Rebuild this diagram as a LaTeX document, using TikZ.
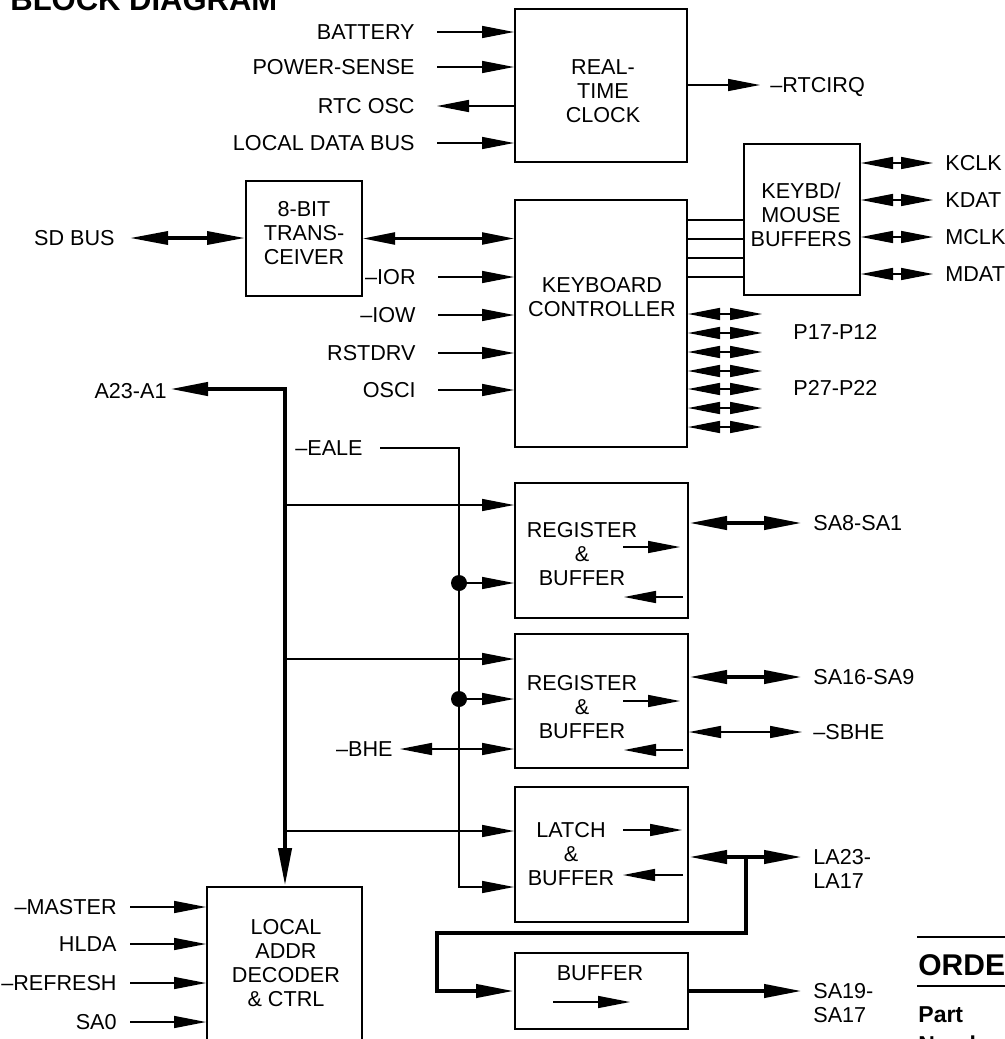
\documentclass[tikz,border=0pt]{standalone}
\usepackage{fontspec}
\setmainfont{Liberation Sans}
\usepackage{tikz}
\usetikzlibrary{arrows.meta, positioning, calc}

\begin{document}
\begin{tikzpicture}[x=0.5pt, y=-0.5pt,
    font=\fontsize{10.8}{12}\selectfont,
    >={Triangle[length=16pt,width=6pt]},
    blk/.style={draw, line width=1pt, inner sep=0pt},
    blktxt/.style={align=center, inner sep=0pt},
    sig/.style={line width=0.75pt},
    bus/.style={line width=2.1pt, >={Triangle[length=19pt,width=6.5pt]}},
    inlbl/.style={anchor=east, inner ysep=0pt, inner xsep=11pt, text height=7.7pt, text depth=0pt},
    outlbl/.style={anchor=west, inner ysep=0pt, inner xsep=5.5pt, text height=7.7pt, text depth=0pt},
    outlbltwo/.style={anchor=west, align=left, inner ysep=0pt, inner xsep=5.5pt}]

            \useasboundingbox (0,0) rectangle (1005,1039);
            \clip (0,0) rectangle (1005,1039);

            % Tiêu đề
            \node[anchor=base west, inner sep=0pt, font=\fontsize{15.5}{18}\selectfont\bfseries] (title) at (10,10) {BLOCK DIAGRAM};

            % Vẽ các khối
            \node[blk, minimum width=86pt, minimum height=76.5pt] (rtc) at (601,85.5) {};
            \node[blk, minimum width=58pt, minimum height=75.5pt] (keyb) at (802,219.5) {};
            \node[blk, minimum width=58pt, minimum height=57.5pt] (trx) at (304,238.5) {};
            \node[blk, minimum width=86pt, minimum height=123.5pt] (kbc) at (601,323.5) {};
            \node[blk, minimum width=86.5pt, minimum height=67.5pt] (rb1) at (601.5,550.5) {};
            \node[blk, minimum width=86.5pt, minimum height=67pt] (rb2) at (601.5,701) {};
            \node[blk, minimum width=86.5pt, minimum height=67.5pt] (lat) at (601.5,854.5) {};
            \node[blk, minimum width=86.5pt, minimum height=38pt] (buf) at (601.5,991) {};
            \node[blk, minimum width=77.5pt, minimum height=91.5pt] (dec) at (284.5,978.5) {};

            % Chữ trong các khối
            \node[blktxt] (rtctxt) at (603,91) {REAL-\\TIME\\CLOCK};
            \node[blktxt] (keybtxt) at (801,215) {KEYBD/\\MOUSE\\BUFFERS};
            \node[blktxt] (trxtxt) at (304,233.5) {8-BIT\\TRANS-\\CEIVER};
            \node[blktxt] (kbctxt) at (602,297.5) {KEYBOARD\\CONTROLLER};
            \node[blktxt] (rb1txt) at (582,554.5) {REGISTER\\\&\\BUFFER};
            \node[blktxt] (rb2txt) at (582,707) {REGISTER\\\&\\BUFFER};
            \node[blktxt] (lattxt) at (571,854) {LATCH\\\&\\BUFFER};
            \node[blktxt, text height=7.7pt, text depth=0pt] (buftxt) at (600,973) {BUFFER};
            \node[blktxt] (dectxt) at (286,963) {LOCAL\\ADDR\\DECODER\\\& CTRL};

            % Mũi tên bên trong khối
            \draw[sig,->] (623,547) -- (680,547);
            \draw[sig,->] (683,597) -- (624,597);
            \draw[sig,->] (623,701) -- (680,701);
            \draw[sig,->] (683,750) -- (624,750);
            \draw[sig,->] (623,830) -- (682,830);
            \draw[sig,->] (683,875) -- (623,875);
            \draw[sig,->] (553,1002) -- (630,1002);

            % Tín hiệu vào đồng hồ thời gian thực
            \node[inlbl] (bat) at (437,32) {BATTERY};
            \node[inlbl] (pws) at (437,67) {POWER-SENSE};
            \node[inlbl] (osc) at (437,106) {RTC OSC};
            \node[inlbl] (ldb) at (437,143) {LOCAL DATA BUS};
            \draw[sig,->] (bat.east) -- (bat.east -| rtc.west);
            \draw[sig,->] (pws.east) -- (pws.east -| rtc.west);
            \draw[sig,<-] (osc.east) -- (osc.east -| rtc.west);
            \draw[sig,->] (ldb.east) -- (ldb.east -| rtc.west);
            \node[outlbl, inner xsep=5pt] (irq) at (760,85) {--RTCIRQ};
            \draw[sig,->] (irq.west -| rtc.east) -- (irq.west);

            % Bộ đệm bàn phím / chuột
            \node[outlbl, inner xsep=6pt] (kclk) at (933,163) {KCLK};
            \node[outlbl, inner xsep=6pt] (kdat) at (933,200) {KDAT};
            \node[outlbl, inner xsep=6pt] (mclk) at (933,237) {MCLK};
            \node[outlbl, inner xsep=6pt] (mdat) at (933,274) {MDAT};
            \draw[sig,<->] (kclk.west -| keyb.east) -- (kclk.west);
            \draw[sig,<->] (kdat.west -| keyb.east) -- (kdat.west);
            \draw[sig,<->] (mclk.west -| keyb.east) -- (mclk.west);
            \draw[sig,<->] (mdat.west -| keyb.east) -- (mdat.west);
            \foreach \y in {220,239,258,277}
                \draw[sig] (kbc.east |- 0,\y) -- (keyb.west |- 0,\y);

            % Bộ thu phát và bộ điều khiển bàn phím
            \node[inlbl, inner xsep=7.5pt] (sdb) at (130,238) {SD BUS};
            \draw[bus,line width=1.7pt,<->] (sdb.east) -- (sdb.east -| trx.west);
            \draw[sig,line width=1.1pt,<->] (trx.east) -- (trx.east -| kbc.west);
            \node[inlbl] (ior) at (438,277) {--IOR};
            \node[inlbl] (iow) at (438,315) {--IOW};
            \node[inlbl] (rst) at (438,353) {RSTDRV};
            \node[inlbl] (osci) at (438,390) {OSCI};
            \draw[sig,->] (ior.east) -- (ior.east -| kbc.west);
            \draw[sig,->] (iow.east) -- (iow.east -| kbc.west);
            \draw[sig,->] (rst.east) -- (rst.east -| kbc.west);
            \draw[sig,->] (osci.east) -- (osci.east -| kbc.west);
            \coordinate (pend) at (762,0);
            \foreach \y in {314,333,352,371,389,408,427}
                \draw[sig,<->] (kbc.east |- 0,\y) -- (pend |- 0,\y);
            \node[outlbl, inner xsep=0pt] (p1) at (793,332) {P17-P12};
            \node[outlbl, inner xsep=0pt] (p2) at (793,388) {P27-P22};

            % Bus địa chỉ
            \coordinate (top) at (285,389);
            \node[inlbl, inner xsep=1.5pt] (a23) at (170,391) {A23-A1};
            \draw[bus,<->] (a23.east |- top) -- (top) -- (top |- dec.north);
            \foreach \b/\y in {rb1/505, rb2/659, lat/831}
                \draw[sig,->] (top |- 0,\y) -- (\b.west |- 0,\y);

            % Tín hiệu -EALE
            \node[inlbl, inner xsep=8.5pt] (eale) at (380,448) {--EALE};
            \coordinate (ecorn) at (459,887);
            \draw[sig,->] (eale.east) -| (ecorn) -- (ecorn -| lat.west);
            \foreach \b/\y in {rb1/583, rb2/699} {
                \fill (ecorn |- 0,\y) circle (4pt);
                \draw[sig,->] (ecorn |- 0,\y) -- (\b.west |- 0,\y);
            }
            \node[inlbl, inner xsep=3.5pt] (bhe) at (400,749) {--BHE};
            \draw[sig,<->] (bhe.east) -- (bhe.east -| rb2.west);

            % Tín hiệu ra
            \node[outlbl] (sa8) at (802,523) {SA8-SA1};
            \draw[bus,<->] (sa8.west -| rb1.east) -- (sa8.west);
            \node[outlbl] (sa16) at (802,677) {SA16-SA9};
            \draw[bus,<->] (sa16.west -| rb2.east) -- (sa16.west);
            \node[outlbl] (sbhe) at (802,732) {--SBHE};
            \draw[sig,<->] (sbhe.west -| rb2.east) -- (sbhe.west);
            \coordinate (laend) at (802,857);
            \node[outlbltwo] (la) at ([yshift=-6pt]laend) {LA23-\\LA17};
            \draw[bus,<->] (laend -| lat.east) -- (laend);
            \coordinate (lj) at (746,857);
            \coordinate (lk) at (437,933);
            \draw[bus,->] (lj) |- (lk) |- (buf.west);
            \coordinate (saend) at (802,991);
            \draw[bus,->] (buf.east) -- (saend);
            \node[outlbltwo] (sa19) at ([yshift=-6pt]saend) {SA19-\\SA17};

            % Tín hiệu vào bộ giải mã
            \node[inlbl, inner xsep=6.5pt] (mas) at (130,907) {--MASTER};
            \node[inlbl, inner xsep=6.5pt] (hlda) at (130,944) {HLDA};
            \node[inlbl, inner xsep=6.5pt] (ref) at (130,983) {--REFRESH};
            \node[inlbl, inner xsep=6.5pt] (sa0) at (130,1022) {SA0};
            \draw[sig,->] (mas.east) -- (mas.east -| dec.west);
            \draw[sig,->] (hlda.east) -- (hlda.east -| dec.west);
            \draw[sig,->] (ref.east) -- (ref.east -| dec.west);
            \draw[sig,->] (sa0.east) -- (sa0.east -| dec.west);

            % Bảng đặt hàng (bị cắt)
            \draw[line width=1pt] (917,937) -- (1010,937);
            \node[anchor=base west, inner sep=0pt, font=\fontsize{15}{18}\selectfont\bfseries] (ord) at (918,975) {ORDERING INFORMATION};
            \draw[line width=1pt] (917,986) -- (1010,986);
            \node[anchor=base west, inner sep=0pt, font=\fontsize{11.5}{13}\selectfont\bfseries] (part) at (918,1022) {Part};
            \node[anchor=base west, inner sep=0pt, font=\fontsize{11.5}{13}\selectfont\bfseries] (num) at (918,1052) {Number};

            \end{tikzpicture}
\end{document}
